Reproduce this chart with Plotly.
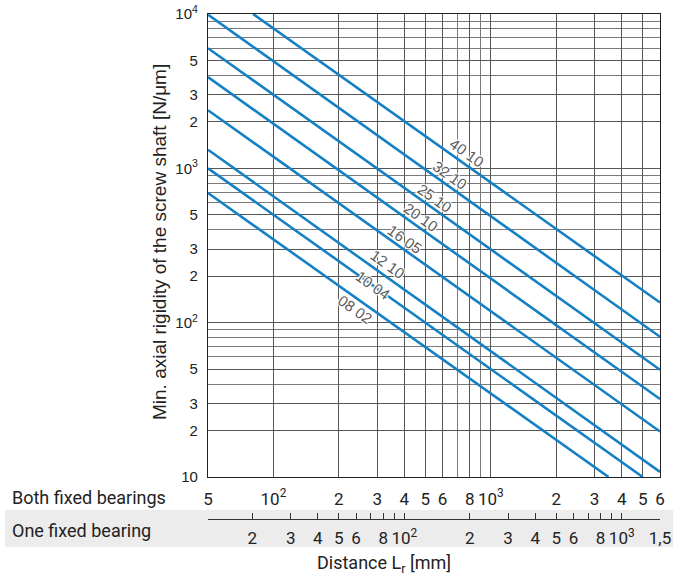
import numpy as np
import plotly.graph_objects as go

# ---------------- data ----------------
series_names = ["40 10", "32 10", "25 10", "20 10", "16 05", "12 10", "10 04", "08 02"]
# distance (both fixed bearings) [mm] at start / end of each line
series_x = [
    [80.6, 6000],
    [50, 6000],
    [50, 6000],
    [50, 6000],
    [50, 6000],
    [50, 6000],
    [50, 5000],
    [50, 3480],
]
# rigidity [N/um] at those points
series_y = [
    [10000, 135],
    [9900, 81],
    [6000, 49.5],
    [3900, 32],
    [2380, 19.7],
    [1320, 10.8],
    [1000, 10],
    [692, 10],
]
# distance where each curve label sits, and its vertical offset from the line (px, + = up)
label_x = [773, 652, 556, 479, 404, 337.6, 288, 238]
label_dy = [12.7, 12, 12, 11.5, 11, 14, 0, -12.5]

y_major = [10, 20, 30, 50, 100, 200, 300, 500, 1000, 2000, 3000, 5000, 10000]
y_major_text = ["10", "2", "3", "5", "10<sup>2</sup>", "2", "3", "5", "10<sup>3</sup>", "2", "3", "5", "10<sup>4</sup>"]
y_minor = [40, 60, 70, 80, 90, 400, 600, 700, 800, 900, 4000, 6000, 7000, 8000, 9000]

x_major = [50, 100, 200, 300, 400, 500, 600, 800, 1000, 2000, 3000, 4000, 5000, 6000]
x_major_text = ["5", "10<sup>2</sup>", "2", "3", "4", "5", "6", "8", "10<sup>3</sup>", "2", "3", "4", "5", "6"]
x_minor = [700, 900]

x2_ticks = [20, 30, 40, 50, 60, 80, 100, 200, 300, 400, 500, 600, 800, 1000, 1500]
x2_text = ["2", "3", "4", "5", "6", "8", "10<sup>2</sup>", "2", "3", "4", "5", "6", "8", "10<sup>3</sup>", "1,5"]
x2_minor = [70, 90, 700, 900]

x_range = [50, 6000]          # both fixed bearings
x2_range = [12.5, 1500]       # one fixed bearing
y_range = [10, 10000]

# ---------------- figure ----------------
BLUE = "#1581c4"
GRID_MAJ = "#555555"
GRID_MIN = "#7a7a7a"
TXT = "#222222"
ROBOTO = "Roboto, Arial, sans-serif"
ARIAL = "Liberation Sans, Arial, sans-serif"

W, H = 673, 579
ml, mr, mt, mb = 208, 13, 14, 60
plot_w = W - ml - mr
paper_h = H - mt - mb
axis_bottom_px = 477
ydom0 = (H - mb - axis_bottom_px) / paper_h

def px_to_paper_x(px):
    return (px - ml) / plot_w

def px_to_paper_y(py):
    return (H - mb - py) / paper_h

fig = go.Figure()
for name, xs, ys in zip(series_names, series_x, series_y):
    fig.add_trace(go.Scatter(x=xs, y=ys, mode="lines", name=name,
                             line=dict(color=BLUE, width=2.6),
                             xaxis="x", yaxis="y", showlegend=False, hoverinfo="skip"))

# invisible trace to create the second (one fixed bearing) axis
fig.add_trace(go.Scatter(x=x2_range, y=[0, 1], mode="markers", marker=dict(opacity=0),
                         xaxis="x2", yaxis="y2", showlegend=False, hoverinfo="skip"))

annotations = []
halo = "1px 1px 1px white, -1px -1px 1px white, 1px -1px 1px white, -1px 1px 1px white, 0px 0px 2px white"
for name, xs, ys, lx, dy in zip(series_names, series_x, series_y, label_x, label_dy):
    lxs = np.log10(xs)
    lys = np.log10(ys)
    ly = np.interp(np.log10(lx), lxs, lys)
    annotations.append(dict(x=np.log10(lx), y=ly, xref="x", yref="y", text=name,
                            showarrow=False, textangle=35.4, yshift=dy,
                            font=dict(family=ARIAL, size=15, color="#5a5a5a", shadow=halo)))

annotations += [
    dict(x=px_to_paper_x(10), y=px_to_paper_y(497), xref="paper", yref="paper",
         text="Both fixed bearings", showarrow=False, xanchor="left", yanchor="middle",
         font=dict(family=ROBOTO, size=18, color=TXT)),
    dict(x=px_to_paper_x(10), y=px_to_paper_y(530), xref="paper", yref="paper",
         text="One fixed bearing", showarrow=False, xanchor="left", yanchor="middle",
         font=dict(family=ROBOTO, size=18, color=TXT)),
    dict(x=px_to_paper_x(384), y=px_to_paper_y(564), xref="paper", yref="paper",
         text="Distance L<sub>r</sub> [mm]", showarrow=False, xanchor="center", yanchor="middle",
         font=dict(family=ROBOTO, size=18, color=TXT)),
    dict(x=px_to_paper_x(160), y=px_to_paper_y(242), xref="paper", yref="paper",
         text="Min. axial rigidity of the screw shaft [N/μm]", showarrow=False, textangle=-90,
         xanchor="center", yanchor="middle",
         font=dict(family=ARIAL, size=19, color=TXT)),
]

shapes = [dict(type="rect", xref="paper", yref="paper",
               x0=px_to_paper_x(5), x1=px_to_paper_x(680),
               y0=px_to_paper_y(547), y1=px_to_paper_y(510),
               fillcolor="#ececec", line=dict(width=0), layer="below")]

fig.update_layout(
    width=W, height=H,
    margin=dict(l=ml, r=mr, t=mt, b=mb, pad=0, autoexpand=False),
    paper_bgcolor="white", plot_bgcolor="rgba(0,0,0,0)",
    showlegend=False,
    annotations=annotations,
    shapes=shapes,
    xaxis=dict(type="log", range=[np.log10(x_range[0]), np.log10(x_range[1])],
               anchor="y", domain=[0, 1], automargin=False,
               tickmode="array", tickvals=x_major, ticktext=x_major_text,
               showgrid=True, gridcolor=GRID_MAJ, gridwidth=1,
               minor=dict(tickmode="array", tickvals=x_minor, showgrid=True, gridcolor=GRID_MIN, gridwidth=1, ticks=""),
               ticks="", ticklabelstandoff=6,
               showline=True, linecolor="#222", linewidth=1.2, mirror=True,
               tickfont=dict(family=ROBOTO, size=17, color=TXT), zeroline=False),
    yaxis=dict(type="log", range=[np.log10(y_range[0]), np.log10(y_range[1])],
               anchor="x", domain=[ydom0, 1], automargin=False,
               tickmode="array", tickvals=y_major, ticktext=y_major_text,
               showgrid=True, gridcolor=GRID_MAJ, gridwidth=1,
               minor=dict(tickmode="array", tickvals=y_minor, showgrid=True, gridcolor=GRID_MIN, gridwidth=1, ticks=""),
               ticks="", ticklabelstandoff=6,
               showline=True, linecolor="#222", linewidth=1.2, mirror=True,
               tickfont=dict(family=ARIAL, size=15, color=TXT), zeroline=False),
    xaxis2=dict(type="log", range=[np.log10(x2_range[0]), np.log10(x2_range[1])],
                anchor="y2", domain=[0, 1], automargin=False,
                tickmode="array", tickvals=x2_ticks, ticktext=x2_text,
                ticks="inside", ticklen=6, tickcolor="#333", tickwidth=1,
                minor=dict(tickmode="array", tickvals=x2_minor, ticks="inside", ticklen=6,
                           tickcolor="#333", tickwidth=1, showgrid=False),
                showgrid=False, showline=True, linecolor="#333", linewidth=1,
                ticklabelstandoff=4,
                tickfont=dict(family=ROBOTO, size=17, color=TXT), zeroline=False),
    yaxis2=dict(anchor="x2", domain=[0, ydom0 * 0.9], range=[0, 1], visible=False, automargin=False),
)

fig.write_html("out.html")
